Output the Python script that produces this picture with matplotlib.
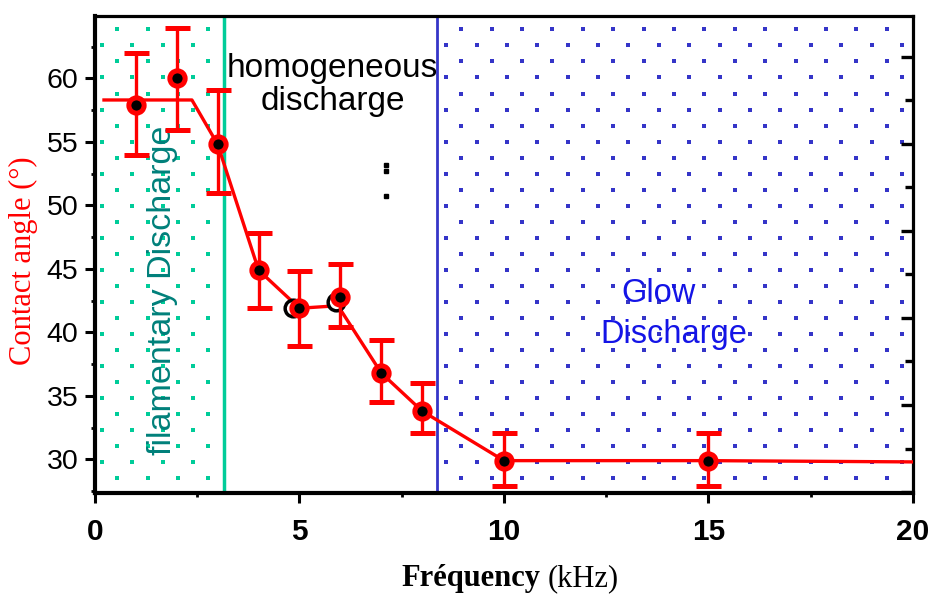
import numpy as np
import matplotlib.pyplot as plt
from matplotlib.ticker import MultipleLocator

# measured points (frequency in kHz, contact angle in degrees)
freq = [1, 2, 3, 4, 5, 6, 7, 8, 10, 15]
angle = [57.9, 60.0, 54.8, 44.9, 41.9, 42.8, 36.8, 33.8, 29.9, 29.9]
err_low = [3.9, 4.1, 3.8, 3.0, 3.0, 2.4, 2.3, 1.7, 2.0, 2.0]
err_high = [4.1, 4.0, 4.3, 2.9, 2.9, 2.6, 2.6, 2.2, 2.2, 2.2]

# the connecting line does not go exactly through the markers in the original
line_x = [0.22, 2.37, 3.0, 4.0, 5.0, 5.94, 7.0, 8.0, 10, 15, 20]
line_y = [58.3, 58.3, 54.8, 44.9, 41.9, 42.1, 36.8, 33.8, 29.9, 29.9, 29.8]

# offset "ghost" markers
shadow_x = [4.85, 5.9]
shadow_y = [41.9, 42.4]

# stray marks in the middle
stray_x = [7.11, 7.11, 7.11]
stray_y = [53.2, 52.7, 50.7]

x_ticks = [0, 5, 10, 15, 20]
y_ticks = [30, 35, 40, 45, 50, 55, 60]

filament_end = 3.16
glow_start = 8.35

green = '#00CC99'
teal = '#00807A'
blue = '#3535C8'

fig = plt.figure(figsize=(9.34, 5.94), dpi=100)
ax = fig.add_axes([0.1017, 0.170, 0.8758, 0.803])
ax.set_xlim(0, 20)
ax.set_ylim(27.35, 64.91)

# dotted backgrounds of the two discharge zones
dx = 0.743
rows = 65.12 - 1.262 * np.arange(30)
gx, gy, bx, by = [], [], [], []
for k, yy in enumerate(rows):
    off = (k % 2) * dx / 2
    xs = np.arange(0.171 + off, filament_end - 0.05, dx)
    gx += list(xs)
    gy += [yy] * len(xs)
    xs = 19.73 - off - dx * np.arange(20)
    xs = xs[xs > glow_start + 0.1]
    bx += list(xs)
    by += [yy] * len(xs)
ax.scatter(gx, gy, s=7, marker='s', color=green, linewidths=0, zorder=1)
ax.scatter(bx, by, s=7, marker='s', color=blue, linewidths=0, zorder=1)

ax.axvline(filament_end, color=green, lw=2.5, zorder=2)
ax.axvline(glow_start, color=blue, lw=2.0, zorder=2)

ax.plot(stray_x, stray_y, 's', color='black', ms=2.8, zorder=2)

# texts
ax.text(5.8, 60.13, 'homogeneous', ha='center', va='baseline',
        fontsize=24, family='Liberation Sans', color='black', zorder=3)
ax.text(5.81, 57.5, 'discharge', ha='center', va='baseline',
        fontsize=24, family='Liberation Sans', color='black', zorder=3)
ax.text(13.77, 42.39, 'Glow', ha='center', va='baseline',
        fontsize=23.5, family='Liberation Sans', color='#1414E6', zorder=3)
ax.text(14.16, 39.16, 'Discharge', ha='center', va='baseline',
        fontsize=23.5, family='Liberation Sans', color='#1414E6', zorder=3)
ax.text(1.65, 43.33, 'filamentary Discharge', rotation=90, ha='center',
        va='center', fontsize=24.5, family='Liberation Sans', color=teal,
        zorder=3)

# data
ax.plot(line_x, line_y, color='red', lw=2.4, zorder=4)
ax.plot(shadow_x, shadow_y, 'o', ms=12, mfc='white', mec='black', mew=2.5,
        zorder=4)
ax.errorbar(freq, angle, yerr=[err_low, err_high], fmt='o', color='red',
            ms=11, mfc='black', mec='red', mew=3.6, ecolor='red',
            elinewidth=2.4, capsize=9, capthick=2.4, zorder=5)

# axes styling
for name, s in ax.spines.items():
    s.set_linewidth(3 if name in ('left', 'bottom') else 2.3)
ax.set_xticks(x_ticks)
ax.set_yticks(y_ticks)
ax.xaxis.set_minor_locator(MultipleLocator(2.5))
ax.yaxis.set_minor_locator(MultipleLocator(2.5))
ax.tick_params(which='major', direction='out', length=7, width=2.2,
               top=False, right=False)
ax.tick_params(which='minor', direction='out', length=3, width=2,
               top=False, right=False)
ax.tick_params(axis='x', pad=11)
ax.tick_params(axis='y', pad=5)
for lab in ax.get_xticklabels():
    lab.set_family('Liberation Sans')
    lab.set_fontweight('bold')
    lab.set_fontsize(21.5)
for lab in ax.get_yticklabels():
    lab.set_family('Liberation Sans')
    lab.set_fontsize(20.5)

# right-hand ticks of the original frame, unrelated to the left scale
ax2 = ax.twinx()
ax2.set_ylim(-0.023, 10.94)
ax2.set_yticks([0, 2, 4, 6, 8, 10])
ax2.set_yticks([1, 3, 5, 7, 9], minor=True)
ax2.tick_params(which='major', direction='in', length=9, width=2.4,
                labelright=False)
ax2.tick_params(which='minor', direction='in', length=5.5, width=2.4,
                labelright=False)
for s in ax2.spines.values():
    s.set_visible(False)

ax.set_ylabel('Contact angle (°)', family='Liberation Serif', fontsize=22,
              color='red', va='center')
ax.yaxis.set_label_coords(-0.087, 0.488)

fig.text(540 / 934, 1 - 586 / 594, 'Fréquency', ha='right', va='baseline',
         family='Liberation Serif', fontweight='bold', fontsize=22)
fig.text(548 / 934, 1 - 586 / 594, '(kHz)', ha='left', va='baseline',
         family='Liberation Serif', fontsize=22)

fig.savefig('out.png', dpi=100)
